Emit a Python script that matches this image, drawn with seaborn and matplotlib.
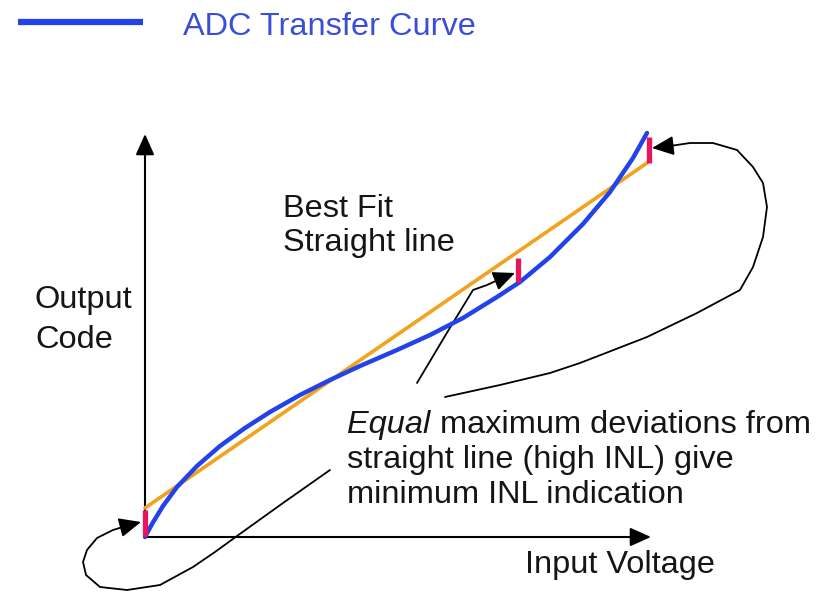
import matplotlib
matplotlib.use("Agg")
import matplotlib.pyplot as plt
import seaborn as sns
import pandas as pd

# diagram drawn in pixel space of the 825x593 picture (y grows downwards)

# ADC transfer curve (blue)
curve_x = [145, 152, 163, 177, 197, 220, 245, 270, 300, 330, 360, 397, 430, 463, 497, 520, 550, 583, 610, 633, 647]
curve_y = [537, 524, 506, 487, 466, 446, 428, 412, 395, 380, 366, 350, 335, 318, 297, 282, 257, 224, 192, 158, 133]

# best fit straight line (orange)
fit_x = [145, 647]
fit_y = [508, 163]

# max deviation markers (red)
dev_x = [145, 518, 649]
dev_top = [510, 258, 137]
dev_bottom = [536, 282, 163]

# annotation strokes from the text block
left_loop_x = [330, 283, 237, 215, 193, 160, 127, 100, 86, 83, 87, 97, 113, 126]
left_loop_y = [470, 503, 536, 552, 567, 585, 590, 587, 575, 562, 550, 538, 530, 526]
left_tip = (141, 522)

mid_x = [417, 445, 473, 487, 500]
mid_y = [383, 336, 290, 285, 279]
mid_tip = (515, 273)

right_loop_x = [445, 500, 550, 580, 647, 697, 740, 753, 763, 767, 763, 753, 737, 713, 690, 670]
right_loop_y = [397, 385, 373, 363, 337, 313, 290, 267, 237, 207, 183, 167, 150, 143, 143, 146]
right_tip = (652, 148)

# axes arrows
y_axis = ((145, 537), (145, 134))
x_axis = ((145, 537), (651, 537))

BLUE = "#2343ea"
ORANGE = "#f2a21c"
RED = "#e8145c"
TEXT = "#151515"
LEGEND_TEXT = "#3b4ed6"

sns.set_theme(style="white")
plt.rcParams["font.family"] = ["Liberation Sans", "DejaVu Sans"]

fig = plt.figure(figsize=(8.25, 5.93), dpi=100)
ax = fig.add_axes([0, 0, 1, 1])
ax.set_xlim(0, 825)
ax.set_ylim(593, 0)
ax.axis("off")

arrow_kw = dict(arrowstyle="-|>,head_length=0.85,head_width=0.38",
                color="black", lw=1.5, shrinkA=0, shrinkB=0, mutation_scale=15)
for start, end in (y_axis, x_axis):
    ax.annotate("", xy=end, xytext=start, arrowprops=arrow_kw)

fit_df = pd.DataFrame({"x": fit_x, "y": fit_y})
curve_df = pd.DataFrame({"x": curve_x, "y": curve_y})
sns.lineplot(data=fit_df, x="x", y="y", sort=False, estimator=None,
             color=ORANGE, lw=2.6, ax=ax, zorder=3)
sns.lineplot(data=curve_df, x="x", y="y", sort=False, estimator=None,
             color=BLUE, lw=3.2, ax=ax, zorder=4, solid_joinstyle="round")
ax.vlines(dev_x, dev_top, dev_bottom, colors=RED, lw=3.8, zorder=5)

# black annotation strokes with arrow heads
head_kw = dict(arrowstyle="-|>,head_length=0.9,head_width=0.4",
               color="black", lw=1.2, shrinkA=0, shrinkB=0, mutation_scale=15)
for xs, ys, tip in ((left_loop_x, left_loop_y, left_tip),
                    (mid_x, mid_y, mid_tip),
                    (right_loop_x, right_loop_y, right_tip)):
    sns.lineplot(x=xs, y=ys, sort=False, estimator=None, color="black",
                 lw=1.3, ax=ax, zorder=2, solid_joinstyle="round")
    ax.annotate("", xy=tip, xytext=(xs[-1], ys[-1]), arrowprops=head_kw, zorder=6)

# legend
ax.plot([18, 143], [22, 22], color=BLUE, lw=4.5, solid_capstyle="butt")
fs = 23.4
ax.text(183, 35, "ADC Transfer Curve", color=LEGEND_TEXT, fontsize=fs, va="baseline")

ax.text(283, 217, "Best Fit", color=TEXT, fontsize=fs, va="baseline")
ax.text(283, 251, "Straight line", color=TEXT, fontsize=fs, va="baseline")
ax.text(35, 308, "Output", color=TEXT, fontsize=fs, va="baseline")
ax.text(35, 348, "Code", color=TEXT, fontsize=fs, va="baseline")
ax.text(525, 573, "Input Voltage", color=TEXT, fontsize=fs, va="baseline")

ax.text(347, 433, "Equal", color=TEXT, fontsize=fs, va="baseline", style="italic")
ax.text(440, 433, "maximum deviations from", color=TEXT, fontsize=fs, va="baseline")
ax.text(347, 468, "straight line (high INL) give", color=TEXT, fontsize=fs, va="baseline")
ax.text(347, 503, "minimum INL indication", color=TEXT, fontsize=fs, va="baseline")

fig.savefig("out.png", dpi=100, facecolor="white")
